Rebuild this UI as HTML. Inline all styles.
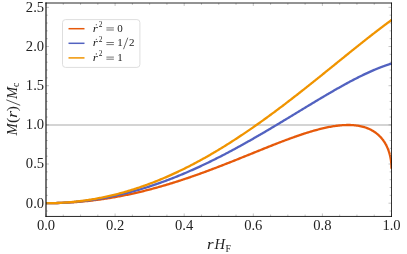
<!DOCTYPE html>
<html><head><meta charset="utf-8"><title>plot</title>
<style>
html,body{margin:0;padding:0;background:#fff;}
svg{display:block;will-change:transform;}
text{font-family:"Liberation Serif",serif;fill:#222;}
</style></head><body>
<svg width="407" height="254" viewBox="0 0 407 254">
<rect width="407" height="254" fill="#fff"/>
<defs><clipPath id="cp"><rect x="46.0" y="3.0" width="345.9" height="213.45"/></clipPath></defs>
<line x1="46.0" y1="125" x2="391.5" y2="125" stroke="#c6c6c6" stroke-width="1.5"/>
<g fill="none" stroke-width="2.3" stroke-linejoin="round" clip-path="url(#cp)">
<path d="M46.00,203.20 L47.10,203.20 L48.20,203.19 L49.29,203.19 L50.39,203.18 L51.49,203.16 L52.59,203.15 L53.68,203.13 L54.78,203.10 L55.88,203.08 L56.98,203.05 L58.08,203.02 L59.17,202.98 L60.27,202.94 L61.37,202.90 L62.47,202.86 L63.56,202.81 L64.66,202.76 L65.76,202.71 L66.86,202.65 L67.95,202.59 L69.05,202.53 L70.15,202.46 L71.25,202.39 L72.35,202.32 L73.44,202.25 L74.54,202.17 L75.64,202.09 L76.74,202.00 L77.83,201.92 L78.93,201.83 L80.03,201.73 L81.13,201.63 L82.23,201.53 L83.32,201.43 L84.42,201.33 L85.52,201.22 L86.62,201.10 L87.71,200.99 L88.81,200.87 L89.91,200.75 L91.01,200.62 L92.11,200.49 L93.20,200.36 L94.30,200.23 L95.40,200.09 L96.50,199.95 L97.59,199.81 L98.69,199.66 L99.79,199.51 L100.89,199.36 L101.98,199.20 L103.08,199.04 L104.18,198.88 L105.28,198.71 L106.38,198.55 L107.47,198.37 L108.57,198.20 L109.67,198.02 L110.77,197.84 L111.86,197.66 L112.96,197.47 L114.06,197.28 L115.16,197.09 L116.26,196.89 L117.35,196.69 L118.45,196.49 L119.55,196.28 L120.65,196.08 L121.74,195.86 L122.84,195.65 L123.94,195.43 L125.04,195.21 L126.14,194.99 L127.23,194.76 L128.33,194.53 L129.43,194.30 L130.53,194.07 L131.62,193.83 L132.72,193.59 L133.82,193.34 L134.92,193.10 L136.01,192.85 L137.11,192.59 L138.21,192.34 L139.31,192.08 L140.41,191.82 L141.50,191.55 L142.60,191.29 L143.70,191.02 L144.80,190.74 L145.89,190.47 L146.99,190.19 L148.09,189.91 L149.19,189.62 L150.29,189.34 L151.38,189.05 L152.48,188.76 L153.58,188.46 L154.68,188.16 L155.77,187.86 L156.87,187.56 L157.97,187.25 L159.07,186.94 L160.17,186.63 L161.26,186.32 L162.36,186.00 L163.46,185.68 L164.56,185.36 L165.65,185.04 L166.75,184.71 L167.85,184.38 L168.95,184.05 L170.04,183.72 L171.14,183.38 L172.24,183.04 L173.34,182.70 L174.44,182.35 L175.53,182.01 L176.63,181.66 L177.73,181.31 L178.83,180.95 L179.92,180.60 L181.02,180.24 L182.12,179.88 L183.22,179.52 L184.32,179.15 L185.41,178.78 L186.51,178.41 L187.61,178.04 L188.71,177.67 L189.80,177.29 L190.90,176.91 L192.00,176.53 L193.10,176.15 L194.20,175.77 L195.29,175.38 L196.39,174.99 L197.49,174.60 L198.59,174.21 L199.68,173.82 L200.78,173.42 L201.88,173.02 L202.98,172.62 L204.07,172.22 L205.17,171.82 L206.27,171.41 L207.37,171.01 L208.47,170.60 L209.56,170.19 L210.66,169.78 L211.76,169.36 L212.86,168.95 L213.95,168.53 L215.05,168.12 L216.15,167.70 L217.25,167.28 L218.35,166.85 L219.44,166.43 L220.54,166.01 L221.64,165.58 L222.74,165.15 L223.83,164.73 L224.93,164.30 L226.03,163.87 L227.13,163.43 L228.23,163.00 L229.32,162.57 L230.42,162.13 L231.52,161.70 L232.62,161.26 L233.71,160.82 L234.81,160.39 L235.91,159.95 L237.01,159.51 L238.10,159.07 L239.20,158.63 L240.30,158.18 L241.40,157.74 L242.50,157.30 L243.59,156.86 L244.69,156.41 L245.79,155.97 L246.89,155.53 L247.98,155.08 L249.08,154.64 L250.18,154.19 L251.28,153.75 L252.38,153.31 L253.47,152.86 L254.57,152.42 L255.67,151.97 L256.77,151.53 L257.86,151.09 L258.96,150.64 L260.06,150.20 L261.16,149.76 L262.26,149.32 L263.35,148.88 L264.45,148.44 L265.55,148.00 L266.65,147.56 L267.74,147.12 L268.84,146.68 L269.94,146.25 L271.04,145.81 L272.13,145.38 L273.23,144.94 L274.33,144.51 L275.43,144.08 L276.53,143.66 L277.62,143.23 L278.72,142.80 L279.82,142.38 L280.92,141.96 L282.01,141.54 L283.11,141.12 L284.21,140.71 L285.31,140.29 L286.41,139.88 L287.50,139.47 L288.60,139.07 L289.70,138.67 L290.80,138.26 L291.89,137.87 L292.99,137.47 L294.09,137.08 L295.19,136.69 L296.29,136.31 L297.38,135.92 L298.48,135.55 L299.58,135.17 L300.68,134.80 L301.77,134.43 L302.87,134.07 L303.97,133.71 L305.07,133.36 L306.16,133.01 L307.26,132.66 L308.36,132.32 L309.46,131.98 L310.56,131.65 L311.65,131.33 L312.75,131.01 L313.85,130.69 L314.95,130.38 L316.04,130.08 L317.14,129.78 L318.24,129.49 L319.34,129.21 L320.44,128.93 L321.53,128.66 L322.63,128.40 L323.73,128.14 L324.83,127.90 L325.92,127.66 L327.02,127.43 L328.12,127.20 L329.22,126.99 L330.32,126.78 L331.41,126.59 L332.51,126.40 L333.61,126.22 L334.71,126.06 L335.80,125.90 L336.90,125.76 L338.00,125.62 L339.10,125.50 L340.19,125.39 L341.29,125.29 L342.39,125.21 L343.49,125.14 L344.59,125.08 L345.68,125.04 L346.78,125.01 L347.88,125.00 L348.98,125.00 L350.07,125.02 L351.17,125.06 L352.27,125.11 L353.37,125.19 L354.47,125.28 L355.56,125.40 L356.66,125.53 L357.76,125.69 L358.86,125.88 L359.95,126.08 L361.05,126.31 L362.15,126.57 L363.25,126.86 L364.35,127.18 L365.44,127.53 L366.54,127.91 L367.64,128.33 L368.74,128.79 L369.83,129.29 L370.93,129.83 L372.03,130.42 L373.13,131.05 L374.22,131.75 L374.22,131.75 L374.40,131.86 L374.57,131.97 L374.74,132.09 L374.91,132.21 L375.08,132.33 L375.25,132.44 L375.42,132.56 L375.59,132.69 L375.75,132.81 L375.92,132.93 L376.08,133.05 L376.25,133.18 L376.41,133.30 L376.57,133.43 L376.73,133.55 L376.89,133.68 L377.05,133.81 L377.21,133.94 L377.37,134.07 L377.52,134.20 L377.68,134.33 L377.83,134.47 L377.99,134.60 L378.14,134.73 L378.29,134.87 L378.44,135.01 L378.59,135.14 L378.74,135.28 L378.89,135.42 L379.04,135.56 L379.19,135.70 L379.33,135.84 L379.48,135.98 L379.62,136.13 L379.77,136.27 L379.91,136.41 L380.05,136.56 L380.19,136.71 L380.33,136.85 L380.47,137.00 L380.61,137.15 L380.75,137.30 L380.88,137.45 L381.02,137.60 L381.15,137.75 L381.29,137.90 L381.42,138.06 L381.55,138.21 L381.68,138.37 L381.82,138.52 L381.94,138.68 L382.07,138.84 L382.20,138.99 L382.33,139.15 L382.45,139.31 L382.58,139.47 L382.70,139.63 L382.83,139.80 L382.95,139.96 L383.07,140.12 L383.19,140.29 L383.31,140.45 L383.43,140.62 L383.55,140.78 L383.67,140.95 L383.78,141.12 L383.90,141.29 L384.01,141.46 L384.13,141.63 L384.24,141.80 L384.35,141.97 L384.46,142.14 L384.57,142.32 L384.68,142.49 L384.79,142.66 L384.90,142.84 L385.01,143.02 L385.11,143.19 L385.22,143.37 L385.32,143.55 L385.43,143.73 L385.53,143.91 L385.63,144.09 L385.73,144.27 L385.83,144.45 L385.93,144.63 L386.03,144.81 L386.13,145.00 L386.22,145.18 L386.32,145.36 L386.41,145.55 L386.51,145.74 L386.60,145.92 L386.69,146.11 L386.78,146.30 L386.87,146.49 L386.96,146.68 L387.05,146.87 L387.14,147.06 L387.22,147.25 L387.31,147.44 L387.40,147.63 L387.48,147.83 L387.56,148.02 L387.65,148.21 L387.73,148.41 L387.81,148.61 L387.89,148.80 L387.97,149.00 L388.04,149.20 L388.12,149.39 L388.20,149.59 L388.27,149.79 L388.35,149.99 L388.42,150.19 L388.49,150.39 L388.57,150.59 L388.64,150.80 L388.71,151.00 L388.78,151.20 L388.85,151.41 L388.91,151.61 L388.98,151.82 L389.05,152.02 L389.11,152.23 L389.18,152.43 L389.24,152.64 L389.30,152.85 L389.36,153.06 L389.42,153.26 L389.48,153.47 L389.54,153.68 L389.60,153.89 L389.66,154.10 L389.71,154.32 L389.77,154.53 L389.82,154.74 L389.88,154.95 L389.93,155.17 L389.98,155.38 L390.03,155.59 L390.08,155.81 L390.13,156.02 L390.18,156.24 L390.23,156.46 L390.27,156.67 L390.32,156.89 L390.37,157.11 L390.41,157.33 L390.45,157.54 L390.49,157.76 L390.54,157.98 L390.58,158.20 L390.62,158.42 L390.66,158.64 L390.69,158.86 L390.73,159.09 L390.77,159.31 L390.80,159.53 L390.84,159.75 L390.87,159.98 L390.90,160.20 L390.93,160.42 L390.97,160.65 L391.00,160.87 L391.02,161.10 L391.05,161.32 L391.08,161.55 L391.11,161.78 L391.13,162.00 L391.16,162.23 L391.18,162.46 L391.21,162.69 L391.23,162.92 L391.25,163.14 L391.27,163.37 L391.29,163.60 L391.31,163.83 L391.33,164.06 L391.34,164.29 L391.36,164.52 L391.37,164.75 L391.39,164.99 L391.40,165.22 L391.41,165.45 L391.43,165.68 L391.44,165.91 L391.45,166.15 L391.46,166.38 L391.46,166.61 L391.47,166.85 L391.48,167.08 L391.48,167.32 L391.49,167.55 L391.49,167.79 L391.50,168.02 L391.50,168.26 L391.50,168.49 L391.50,168.73" stroke="#e6590a"/>
<path d="M46.00,203.20 L47.10,203.20 L48.20,203.19 L49.29,203.18 L50.39,203.17 L51.49,203.15 L52.59,203.13 L53.68,203.11 L54.78,203.08 L55.88,203.05 L56.98,203.02 L58.08,202.98 L59.17,202.93 L60.27,202.89 L61.37,202.84 L62.47,202.78 L63.56,202.73 L64.66,202.66 L65.76,202.60 L66.86,202.53 L67.95,202.46 L69.05,202.38 L70.15,202.30 L71.25,202.22 L72.35,202.13 L73.44,202.04 L74.54,201.94 L75.64,201.84 L76.74,201.74 L77.83,201.63 L78.93,201.52 L80.03,201.41 L81.13,201.29 L82.23,201.17 L83.32,201.04 L84.42,200.91 L85.52,200.78 L86.62,200.64 L87.71,200.50 L88.81,200.35 L89.91,200.20 L91.01,200.05 L92.11,199.89 L93.20,199.73 L94.30,199.57 L95.40,199.40 L96.50,199.23 L97.59,199.05 L98.69,198.88 L99.79,198.69 L100.89,198.50 L101.98,198.31 L103.08,198.12 L104.18,197.92 L105.28,197.72 L106.38,197.51 L107.47,197.30 L108.57,197.09 L109.67,196.87 L110.77,196.65 L111.86,196.42 L112.96,196.19 L114.06,195.96 L115.16,195.73 L116.26,195.48 L117.35,195.24 L118.45,194.99 L119.55,194.74 L120.65,194.49 L121.74,194.23 L122.84,193.96 L123.94,193.70 L125.04,193.43 L126.14,193.15 L127.23,192.87 L128.33,192.59 L129.43,192.30 L130.53,192.02 L131.62,191.72 L132.72,191.43 L133.82,191.12 L134.92,190.82 L136.01,190.51 L137.11,190.20 L138.21,189.88 L139.31,189.57 L140.41,189.24 L141.50,188.92 L142.60,188.59 L143.70,188.25 L144.80,187.91 L145.89,187.57 L146.99,187.23 L148.09,186.88 L149.19,186.53 L150.29,186.17 L151.38,185.81 L152.48,185.45 L153.58,185.08 L154.68,184.71 L155.77,184.34 L156.87,183.96 L157.97,183.58 L159.07,183.20 L160.17,182.81 L161.26,182.42 L162.36,182.02 L163.46,181.63 L164.56,181.22 L165.65,180.82 L166.75,180.41 L167.85,180.00 L168.95,179.58 L170.04,179.16 L171.14,178.74 L172.24,178.31 L173.34,177.88 L174.44,177.45 L175.53,177.02 L176.63,176.58 L177.73,176.13 L178.83,175.69 L179.92,175.24 L181.02,174.78 L182.12,174.33 L183.22,173.87 L184.32,173.41 L185.41,172.94 L186.51,172.47 L187.61,172.00 L188.71,171.52 L189.80,171.04 L190.90,170.56 L192.00,170.08 L193.10,169.59 L194.20,169.10 L195.29,168.60 L196.39,168.11 L197.49,167.61 L198.59,167.10 L199.68,166.59 L200.78,166.09 L201.88,165.57 L202.98,165.06 L204.07,164.54 L205.17,164.02 L206.27,163.49 L207.37,162.96 L208.47,162.43 L209.56,161.90 L210.66,161.37 L211.76,160.83 L212.86,160.29 L213.95,159.74 L215.05,159.19 L216.15,158.64 L217.25,158.09 L218.35,157.54 L219.44,156.98 L220.54,156.42 L221.64,155.86 L222.74,155.29 L223.83,154.72 L224.93,154.15 L226.03,153.58 L227.13,153.00 L228.23,152.42 L229.32,151.84 L230.42,151.26 L231.52,150.67 L232.62,150.09 L233.71,149.50 L234.81,148.90 L235.91,148.31 L237.01,147.71 L238.10,147.11 L239.20,146.51 L240.30,145.91 L241.40,145.30 L242.50,144.69 L243.59,144.08 L244.69,143.47 L245.79,142.86 L246.89,142.24 L247.98,141.62 L249.08,141.00 L250.18,140.38 L251.28,139.76 L252.38,139.13 L253.47,138.50 L254.57,137.87 L255.67,137.24 L256.77,136.61 L257.86,135.98 L258.96,135.34 L260.06,134.70 L261.16,134.06 L262.26,133.42 L263.35,132.78 L264.45,132.14 L265.55,131.49 L266.65,130.85 L267.74,130.20 L268.84,129.55 L269.94,128.90 L271.04,128.25 L272.13,127.60 L273.23,126.94 L274.33,126.29 L275.43,125.63 L276.53,124.98 L277.62,124.32 L278.72,123.66 L279.82,123.00 L280.92,122.34 L282.01,121.68 L283.11,121.02 L284.21,120.36 L285.31,119.69 L286.41,119.03 L287.50,118.37 L288.60,117.70 L289.70,117.04 L290.80,116.37 L291.89,115.71 L292.99,115.04 L294.09,114.37 L295.19,113.71 L296.29,113.04 L297.38,112.37 L298.48,111.71 L299.58,111.04 L300.68,110.37 L301.77,109.71 L302.87,109.04 L303.97,108.38 L305.07,107.71 L306.16,107.05 L307.26,106.38 L308.36,105.72 L309.46,105.05 L310.56,104.39 L311.65,103.73 L312.75,103.07 L313.85,102.41 L314.95,101.75 L316.04,101.09 L317.14,100.43 L318.24,99.78 L319.34,99.12 L320.44,98.47 L321.53,97.82 L322.63,97.17 L323.73,96.52 L324.83,95.87 L325.92,95.22 L327.02,94.58 L328.12,93.94 L329.22,93.30 L330.32,92.66 L331.41,92.02 L332.51,91.39 L333.61,90.75 L334.71,90.12 L335.80,89.50 L336.90,88.87 L338.00,88.25 L339.10,87.63 L340.19,87.01 L341.29,86.40 L342.39,85.79 L343.49,85.18 L344.59,84.58 L345.68,83.98 L346.78,83.38 L347.88,82.79 L348.98,82.20 L350.07,81.61 L351.17,81.03 L352.27,80.45 L353.37,79.87 L354.47,79.30 L355.56,78.74 L356.66,78.18 L357.76,77.62 L358.86,77.07 L359.95,76.52 L361.05,75.98 L362.15,75.44 L363.25,74.91 L364.35,74.38 L365.44,73.86 L366.54,73.35 L367.64,72.84 L368.74,72.34 L369.83,71.84 L370.93,71.35 L372.03,70.87 L373.13,70.39 L374.22,69.92 L374.22,69.92 L374.40,69.85 L374.57,69.77 L374.74,69.70 L374.91,69.63 L375.08,69.56 L375.25,69.49 L375.42,69.42 L375.59,69.35 L375.75,69.28 L375.92,69.21 L376.08,69.14 L376.25,69.07 L376.41,69.01 L376.57,68.94 L376.73,68.87 L376.89,68.81 L377.05,68.74 L377.21,68.68 L377.37,68.61 L377.52,68.55 L377.68,68.49 L377.83,68.43 L377.99,68.36 L378.14,68.30 L378.29,68.24 L378.44,68.18 L378.59,68.12 L378.74,68.06 L378.89,68.00 L379.04,67.94 L379.19,67.89 L379.33,67.83 L379.48,67.77 L379.62,67.71 L379.77,67.66 L379.91,67.60 L380.05,67.55 L380.19,67.49 L380.33,67.44 L380.47,67.39 L380.61,67.33 L380.75,67.28 L380.88,67.23 L381.02,67.18 L381.15,67.12 L381.29,67.07 L381.42,67.02 L381.55,66.97 L381.68,66.92 L381.82,66.87 L381.94,66.83 L382.07,66.78 L382.20,66.73 L382.33,66.68 L382.45,66.64 L382.58,66.59 L382.70,66.54 L382.83,66.50 L382.95,66.45 L383.07,66.41 L383.19,66.36 L383.31,66.32 L383.43,66.28 L383.55,66.23 L383.67,66.19 L383.78,66.15 L383.90,66.11 L384.01,66.07 L384.13,66.02 L384.24,65.98 L384.35,65.94 L384.46,65.90 L384.57,65.86 L384.68,65.83 L384.79,65.79 L384.90,65.75 L385.01,65.71 L385.11,65.67 L385.22,65.64 L385.32,65.60 L385.43,65.56 L385.53,65.53 L385.63,65.49 L385.73,65.46 L385.83,65.42 L385.93,65.39 L386.03,65.36 L386.13,65.32 L386.22,65.29 L386.32,65.26 L386.41,65.22 L386.51,65.19 L386.60,65.16 L386.69,65.13 L386.78,65.10 L386.87,65.07 L386.96,65.04 L387.05,65.01 L387.14,64.98 L387.22,64.95 L387.31,64.92 L387.40,64.89 L387.48,64.86 L387.56,64.84 L387.65,64.81 L387.73,64.78 L387.81,64.75 L387.89,64.73 L387.97,64.70 L388.04,64.68 L388.12,64.65 L388.20,64.63 L388.27,64.60 L388.35,64.58 L388.42,64.55 L388.49,64.53 L388.57,64.51 L388.64,64.48 L388.71,64.46 L388.78,64.44 L388.85,64.42 L388.91,64.39 L388.98,64.37 L389.05,64.35 L389.11,64.33 L389.18,64.31 L389.24,64.29 L389.30,64.27 L389.36,64.25 L389.42,64.23 L389.48,64.21 L389.54,64.19 L389.60,64.18 L389.66,64.16 L389.71,64.14 L389.77,64.12 L389.82,64.11 L389.88,64.09 L389.93,64.07 L389.98,64.06 L390.03,64.04 L390.08,64.02 L390.13,64.01 L390.18,63.99 L390.23,63.98 L390.27,63.96 L390.32,63.95 L390.37,63.94 L390.41,63.92 L390.45,63.91 L390.49,63.90 L390.54,63.88 L390.58,63.87 L390.62,63.86 L390.66,63.85 L390.69,63.84 L390.73,63.82 L390.77,63.81 L390.80,63.80 L390.84,63.79 L390.87,63.78 L390.90,63.77 L390.93,63.76 L390.97,63.75 L391.00,63.74 L391.02,63.73 L391.05,63.73 L391.08,63.72 L391.11,63.71 L391.13,63.70 L391.16,63.69 L391.18,63.69 L391.21,63.68 L391.23,63.67 L391.25,63.67 L391.27,63.66 L391.29,63.65 L391.31,63.65 L391.33,63.64 L391.34,63.64 L391.36,63.63 L391.37,63.63 L391.39,63.62 L391.40,63.62 L391.41,63.62 L391.43,63.61 L391.44,63.61 L391.45,63.61 L391.46,63.60 L391.46,63.60 L391.47,63.60 L391.48,63.60 L391.48,63.60 L391.49,63.59 L391.49,63.59 L391.50,63.59 L391.50,63.59 L391.50,63.59 L391.50,63.59" stroke="#5262c0"/>
<path d="M46.00,203.20 L47.10,203.20 L48.20,203.19 L49.29,203.18 L50.39,203.17 L51.49,203.15 L52.59,203.12 L53.68,203.10 L54.78,203.06 L55.88,203.03 L56.98,202.99 L58.08,202.94 L59.17,202.89 L60.27,202.84 L61.37,202.78 L62.47,202.72 L63.56,202.65 L64.66,202.58 L65.76,202.51 L66.86,202.43 L67.95,202.34 L69.05,202.25 L70.15,202.16 L71.25,202.07 L72.35,201.96 L73.44,201.86 L74.54,201.75 L75.64,201.63 L76.74,201.51 L77.83,201.39 L78.93,201.26 L80.03,201.13 L81.13,201.00 L82.23,200.85 L83.32,200.71 L84.42,200.56 L85.52,200.41 L86.62,200.25 L87.71,200.09 L88.81,199.92 L89.91,199.75 L91.01,199.57 L92.11,199.39 L93.20,199.21 L94.30,199.02 L95.40,198.82 L96.50,198.62 L97.59,198.42 L98.69,198.22 L99.79,198.00 L100.89,197.79 L101.98,197.57 L103.08,197.34 L104.18,197.12 L105.28,196.88 L106.38,196.64 L107.47,196.40 L108.57,196.16 L109.67,195.90 L110.77,195.65 L111.86,195.39 L112.96,195.12 L114.06,194.86 L115.16,194.58 L116.26,194.31 L117.35,194.02 L118.45,193.74 L119.55,193.45 L120.65,193.15 L121.74,192.85 L122.84,192.55 L123.94,192.24 L125.04,191.93 L126.14,191.61 L127.23,191.29 L128.33,190.96 L129.43,190.63 L130.53,190.30 L131.62,189.96 L132.72,189.62 L133.82,189.27 L134.92,188.92 L136.01,188.56 L137.11,188.20 L138.21,187.84 L139.31,187.47 L140.41,187.09 L141.50,186.71 L142.60,186.33 L143.70,185.95 L144.80,185.55 L145.89,185.16 L146.99,184.76 L148.09,184.36 L149.19,183.95 L150.29,183.54 L151.38,183.12 L152.48,182.70 L153.58,182.27 L154.68,181.84 L155.77,181.41 L156.87,180.97 L157.97,180.53 L159.07,180.08 L160.17,179.63 L161.26,179.18 L162.36,178.72 L163.46,178.25 L164.56,177.79 L165.65,177.32 L166.75,176.84 L167.85,176.36 L168.95,175.88 L170.04,175.39 L171.14,174.89 L172.24,174.40 L173.34,173.90 L174.44,173.39 L175.53,172.88 L176.63,172.37 L177.73,171.85 L178.83,171.33 L179.92,170.81 L181.02,170.28 L182.12,169.74 L183.22,169.21 L184.32,168.67 L185.41,168.12 L186.51,167.57 L187.61,167.02 L188.71,166.46 L189.80,165.90 L190.90,165.33 L192.00,164.77 L193.10,164.19 L194.20,163.61 L195.29,163.03 L196.39,162.45 L197.49,161.86 L198.59,161.27 L199.68,160.67 L200.78,160.07 L201.88,159.47 L202.98,158.86 L204.07,158.25 L205.17,157.63 L206.27,157.01 L207.37,156.39 L208.47,155.76 L209.56,155.13 L210.66,154.50 L211.76,153.86 L212.86,153.22 L213.95,152.58 L215.05,151.93 L216.15,151.28 L217.25,150.62 L218.35,149.96 L219.44,149.30 L220.54,148.63 L221.64,147.96 L222.74,147.29 L223.83,146.61 L224.93,145.93 L226.03,145.25 L227.13,144.56 L228.23,143.87 L229.32,143.17 L230.42,142.48 L231.52,141.78 L232.62,141.07 L233.71,140.36 L234.81,139.65 L235.91,138.94 L237.01,138.22 L238.10,137.50 L239.20,136.78 L240.30,136.05 L241.40,135.32 L242.50,134.59 L243.59,133.85 L244.69,133.11 L245.79,132.37 L246.89,131.62 L247.98,130.87 L249.08,130.12 L250.18,129.37 L251.28,128.61 L252.38,127.85 L253.47,127.08 L254.57,126.32 L255.67,125.55 L256.77,124.78 L257.86,124.00 L258.96,123.22 L260.06,122.44 L261.16,121.66 L262.26,120.87 L263.35,120.08 L264.45,119.29 L265.55,118.50 L266.65,117.70 L267.74,116.90 L268.84,116.10 L269.94,115.30 L271.04,114.49 L272.13,113.68 L273.23,112.87 L274.33,112.06 L275.43,111.24 L276.53,110.42 L277.62,109.60 L278.72,108.78 L279.82,107.95 L280.92,107.12 L282.01,106.29 L283.11,105.46 L284.21,104.63 L285.31,103.79 L286.41,102.95 L287.50,102.11 L288.60,101.27 L289.70,100.43 L290.80,99.58 L291.89,98.73 L292.99,97.88 L294.09,97.03 L295.19,96.18 L296.29,95.32 L297.38,94.47 L298.48,93.61 L299.58,92.75 L300.68,91.89 L301.77,91.02 L302.87,90.16 L303.97,89.29 L305.07,88.43 L306.16,87.56 L307.26,86.69 L308.36,85.82 L309.46,84.94 L310.56,84.07 L311.65,83.19 L312.75,82.32 L313.85,81.44 L314.95,80.56 L316.04,79.68 L317.14,78.80 L318.24,77.92 L319.34,77.04 L320.44,76.16 L321.53,75.27 L322.63,74.39 L323.73,73.50 L324.83,72.62 L325.92,71.73 L327.02,70.85 L328.12,69.96 L329.22,69.07 L330.32,68.18 L331.41,67.30 L332.51,66.41 L333.61,65.52 L334.71,64.63 L335.80,63.74 L336.90,62.85 L338.00,61.97 L339.10,61.08 L340.19,60.19 L341.29,59.30 L342.39,58.41 L343.49,57.52 L344.59,56.64 L345.68,55.75 L346.78,54.86 L347.88,53.98 L348.98,53.09 L350.07,52.21 L351.17,51.32 L352.27,50.44 L353.37,49.56 L354.47,48.68 L355.56,47.80 L356.66,46.92 L357.76,46.04 L358.86,45.17 L359.95,44.29 L361.05,43.42 L362.15,42.54 L363.25,41.67 L364.35,40.80 L365.44,39.94 L366.54,39.07 L367.64,38.21 L368.74,37.34 L369.83,36.48 L370.93,35.63 L372.03,34.77 L373.13,33.92 L374.22,33.06 L374.22,33.06 L374.40,32.93 L374.57,32.80 L374.74,32.66 L374.91,32.53 L375.08,32.40 L375.25,32.27 L375.42,32.14 L375.59,32.01 L375.75,31.88 L375.92,31.76 L376.08,31.63 L376.25,31.50 L376.41,31.38 L376.57,31.25 L376.73,31.13 L376.89,31.01 L377.05,30.88 L377.21,30.76 L377.37,30.64 L377.52,30.52 L377.68,30.40 L377.83,30.28 L377.99,30.17 L378.14,30.05 L378.29,29.93 L378.44,29.82 L378.59,29.70 L378.74,29.59 L378.89,29.47 L379.04,29.36 L379.19,29.25 L379.33,29.14 L379.48,29.02 L379.62,28.91 L379.77,28.80 L379.91,28.70 L380.05,28.59 L380.19,28.48 L380.33,28.37 L380.47,28.27 L380.61,28.16 L380.75,28.06 L380.88,27.95 L381.02,27.85 L381.15,27.75 L381.29,27.65 L381.42,27.55 L381.55,27.45 L381.68,27.35 L381.82,27.25 L381.94,27.15 L382.07,27.05 L382.20,26.96 L382.33,26.86 L382.45,26.76 L382.58,26.67 L382.70,26.58 L382.83,26.48 L382.95,26.39 L383.07,26.30 L383.19,26.21 L383.31,26.12 L383.43,26.03 L383.55,25.94 L383.67,25.85 L383.78,25.76 L383.90,25.68 L384.01,25.59 L384.13,25.50 L384.24,25.42 L384.35,25.33 L384.46,25.25 L384.57,25.17 L384.68,25.09 L384.79,25.00 L384.90,24.92 L385.01,24.84 L385.11,24.76 L385.22,24.69 L385.32,24.61 L385.43,24.53 L385.53,24.45 L385.63,24.38 L385.73,24.30 L385.83,24.23 L385.93,24.15 L386.03,24.08 L386.13,24.01 L386.22,23.94 L386.32,23.86 L386.41,23.79 L386.51,23.72 L386.60,23.65 L386.69,23.59 L386.78,23.52 L386.87,23.45 L386.96,23.38 L387.05,23.32 L387.14,23.25 L387.22,23.19 L387.31,23.13 L387.40,23.06 L387.48,23.00 L387.56,22.94 L387.65,22.88 L387.73,22.82 L387.81,22.76 L387.89,22.70 L387.97,22.64 L388.04,22.58 L388.12,22.52 L388.20,22.47 L388.27,22.41 L388.35,22.36 L388.42,22.30 L388.49,22.25 L388.57,22.19 L388.64,22.14 L388.71,22.09 L388.78,22.04 L388.85,21.99 L388.91,21.94 L388.98,21.89 L389.05,21.84 L389.11,21.79 L389.18,21.75 L389.24,21.70 L389.30,21.65 L389.36,21.61 L389.42,21.56 L389.48,21.52 L389.54,21.48 L389.60,21.43 L389.66,21.39 L389.71,21.35 L389.77,21.31 L389.82,21.27 L389.88,21.23 L389.93,21.19 L389.98,21.15 L390.03,21.12 L390.08,21.08 L390.13,21.04 L390.18,21.01 L390.23,20.97 L390.27,20.94 L390.32,20.90 L390.37,20.87 L390.41,20.84 L390.45,20.81 L390.49,20.78 L390.54,20.75 L390.58,20.72 L390.62,20.69 L390.66,20.66 L390.69,20.63 L390.73,20.60 L390.77,20.58 L390.80,20.55 L390.84,20.53 L390.87,20.50 L390.90,20.48 L390.93,20.45 L390.97,20.43 L391.00,20.41 L391.02,20.39 L391.05,20.37 L391.08,20.35 L391.11,20.33 L391.13,20.31 L391.16,20.29 L391.18,20.27 L391.21,20.26 L391.23,20.24 L391.25,20.22 L391.27,20.21 L391.29,20.20 L391.31,20.18 L391.33,20.17 L391.34,20.16 L391.36,20.14 L391.37,20.13 L391.39,20.12 L391.40,20.11 L391.41,20.10 L391.43,20.09 L391.44,20.09 L391.45,20.08 L391.46,20.07 L391.46,20.07 L391.47,20.06 L391.48,20.06 L391.48,20.05 L391.49,20.05 L391.49,20.05 L391.50,20.04 L391.50,20.04 L391.50,20.04 L391.50,20.04" stroke="#f09400"/>
</g>
<g stroke="#808080" stroke-width="0.45">
<line x1="46.00" y1="216.45" x2="46.00" y2="213.45"/>
<line x1="46.00" y1="3.0" x2="46.00" y2="6.00"/>
<line x1="63.28" y1="216.45" x2="63.28" y2="214.55"/>
<line x1="63.28" y1="3.0" x2="63.28" y2="4.90"/>
<line x1="80.55" y1="216.45" x2="80.55" y2="214.55"/>
<line x1="80.55" y1="3.0" x2="80.55" y2="4.90"/>
<line x1="97.83" y1="216.45" x2="97.83" y2="214.55"/>
<line x1="97.83" y1="3.0" x2="97.83" y2="4.90"/>
<line x1="115.10" y1="216.45" x2="115.10" y2="213.45"/>
<line x1="115.10" y1="3.0" x2="115.10" y2="6.00"/>
<line x1="132.38" y1="216.45" x2="132.38" y2="214.55"/>
<line x1="132.38" y1="3.0" x2="132.38" y2="4.90"/>
<line x1="149.65" y1="216.45" x2="149.65" y2="214.55"/>
<line x1="149.65" y1="3.0" x2="149.65" y2="4.90"/>
<line x1="166.93" y1="216.45" x2="166.93" y2="214.55"/>
<line x1="166.93" y1="3.0" x2="166.93" y2="4.90"/>
<line x1="184.20" y1="216.45" x2="184.20" y2="213.45"/>
<line x1="184.20" y1="3.0" x2="184.20" y2="6.00"/>
<line x1="201.47" y1="216.45" x2="201.47" y2="214.55"/>
<line x1="201.47" y1="3.0" x2="201.47" y2="4.90"/>
<line x1="218.75" y1="216.45" x2="218.75" y2="214.55"/>
<line x1="218.75" y1="3.0" x2="218.75" y2="4.90"/>
<line x1="236.03" y1="216.45" x2="236.03" y2="214.55"/>
<line x1="236.03" y1="3.0" x2="236.03" y2="4.90"/>
<line x1="253.30" y1="216.45" x2="253.30" y2="213.45"/>
<line x1="253.30" y1="3.0" x2="253.30" y2="6.00"/>
<line x1="270.58" y1="216.45" x2="270.58" y2="214.55"/>
<line x1="270.58" y1="3.0" x2="270.58" y2="4.90"/>
<line x1="287.85" y1="216.45" x2="287.85" y2="214.55"/>
<line x1="287.85" y1="3.0" x2="287.85" y2="4.90"/>
<line x1="305.12" y1="216.45" x2="305.12" y2="214.55"/>
<line x1="305.12" y1="3.0" x2="305.12" y2="4.90"/>
<line x1="322.40" y1="216.45" x2="322.40" y2="213.45"/>
<line x1="322.40" y1="3.0" x2="322.40" y2="6.00"/>
<line x1="339.68" y1="216.45" x2="339.68" y2="214.55"/>
<line x1="339.68" y1="3.0" x2="339.68" y2="4.90"/>
<line x1="356.95" y1="216.45" x2="356.95" y2="214.55"/>
<line x1="356.95" y1="3.0" x2="356.95" y2="4.90"/>
<line x1="374.23" y1="216.45" x2="374.23" y2="214.55"/>
<line x1="374.23" y1="3.0" x2="374.23" y2="4.90"/>
<line x1="391.50" y1="216.45" x2="391.50" y2="213.45"/>
<line x1="391.50" y1="3.0" x2="391.50" y2="6.00"/>
<line x1="46.0" y1="211.03" x2="47.90" y2="211.03"/>
<line x1="391.5" y1="211.03" x2="389.60" y2="211.03"/>
<line x1="46.0" y1="203.20" x2="49.00" y2="203.20"/>
<line x1="391.5" y1="203.20" x2="388.50" y2="203.20"/>
<line x1="46.0" y1="195.37" x2="47.90" y2="195.37"/>
<line x1="391.5" y1="195.37" x2="389.60" y2="195.37"/>
<line x1="46.0" y1="187.53" x2="47.90" y2="187.53"/>
<line x1="391.5" y1="187.53" x2="389.60" y2="187.53"/>
<line x1="46.0" y1="179.70" x2="47.90" y2="179.70"/>
<line x1="391.5" y1="179.70" x2="389.60" y2="179.70"/>
<line x1="46.0" y1="171.86" x2="47.90" y2="171.86"/>
<line x1="391.5" y1="171.86" x2="389.60" y2="171.86"/>
<line x1="46.0" y1="164.03" x2="49.00" y2="164.03"/>
<line x1="391.5" y1="164.03" x2="388.50" y2="164.03"/>
<line x1="46.0" y1="156.20" x2="47.90" y2="156.20"/>
<line x1="391.5" y1="156.20" x2="389.60" y2="156.20"/>
<line x1="46.0" y1="148.36" x2="47.90" y2="148.36"/>
<line x1="391.5" y1="148.36" x2="389.60" y2="148.36"/>
<line x1="46.0" y1="140.53" x2="47.90" y2="140.53"/>
<line x1="391.5" y1="140.53" x2="389.60" y2="140.53"/>
<line x1="46.0" y1="132.69" x2="47.90" y2="132.69"/>
<line x1="391.5" y1="132.69" x2="389.60" y2="132.69"/>
<line x1="46.0" y1="124.86" x2="49.00" y2="124.86"/>
<line x1="391.5" y1="124.86" x2="388.50" y2="124.86"/>
<line x1="46.0" y1="117.03" x2="47.90" y2="117.03"/>
<line x1="391.5" y1="117.03" x2="389.60" y2="117.03"/>
<line x1="46.0" y1="109.19" x2="47.90" y2="109.19"/>
<line x1="391.5" y1="109.19" x2="389.60" y2="109.19"/>
<line x1="46.0" y1="101.36" x2="47.90" y2="101.36"/>
<line x1="391.5" y1="101.36" x2="389.60" y2="101.36"/>
<line x1="46.0" y1="93.52" x2="47.90" y2="93.52"/>
<line x1="391.5" y1="93.52" x2="389.60" y2="93.52"/>
<line x1="46.0" y1="85.69" x2="49.00" y2="85.69"/>
<line x1="391.5" y1="85.69" x2="388.50" y2="85.69"/>
<line x1="46.0" y1="77.86" x2="47.90" y2="77.86"/>
<line x1="391.5" y1="77.86" x2="389.60" y2="77.86"/>
<line x1="46.0" y1="70.02" x2="47.90" y2="70.02"/>
<line x1="391.5" y1="70.02" x2="389.60" y2="70.02"/>
<line x1="46.0" y1="62.19" x2="47.90" y2="62.19"/>
<line x1="391.5" y1="62.19" x2="389.60" y2="62.19"/>
<line x1="46.0" y1="54.35" x2="47.90" y2="54.35"/>
<line x1="391.5" y1="54.35" x2="389.60" y2="54.35"/>
<line x1="46.0" y1="46.52" x2="49.00" y2="46.52"/>
<line x1="391.5" y1="46.52" x2="388.50" y2="46.52"/>
<line x1="46.0" y1="38.69" x2="47.90" y2="38.69"/>
<line x1="391.5" y1="38.69" x2="389.60" y2="38.69"/>
<line x1="46.0" y1="30.85" x2="47.90" y2="30.85"/>
<line x1="391.5" y1="30.85" x2="389.60" y2="30.85"/>
<line x1="46.0" y1="23.02" x2="47.90" y2="23.02"/>
<line x1="391.5" y1="23.02" x2="389.60" y2="23.02"/>
<line x1="46.0" y1="15.18" x2="47.90" y2="15.18"/>
<line x1="391.5" y1="15.18" x2="389.60" y2="15.18"/>
<line x1="46.0" y1="7.35" x2="49.00" y2="7.35"/>
<line x1="391.5" y1="7.35" x2="388.50" y2="7.35"/>
</g>
<g stroke="#000" fill="none">
<line x1="46.0" y1="2.6" x2="46.0" y2="216.85" stroke-width="1.1"/>
<line x1="391.5" y1="2.6" x2="391.5" y2="216.85" stroke-width="0.8"/>
<line x1="45.45" y1="3.0" x2="391.9" y2="3.0" stroke-width="0.85"/>
<line x1="45.45" y1="216.45" x2="391.9" y2="216.45" stroke-width="0.85"/>
</g>
<g font-size="14.6">
<text x="46.00" y="230.1" text-anchor="middle">0.0</text>
<text x="115.10" y="230.1" text-anchor="middle">0.2</text>
<text x="184.20" y="230.1" text-anchor="middle">0.4</text>
<text x="253.30" y="230.1" text-anchor="middle">0.6</text>
<text x="322.40" y="230.1" text-anchor="middle">0.8</text>
<text x="391.50" y="230.1" text-anchor="middle">1.0</text>
<text x="44.1" y="207.60" text-anchor="end">0.0</text>
<text x="44.1" y="168.43" text-anchor="end">0.5</text>
<text x="44.1" y="129.26" text-anchor="end">1.0</text>
<text x="44.1" y="90.09" text-anchor="end">1.5</text>
<text x="44.1" y="50.92" text-anchor="end">2.0</text>
<text x="44.1" y="11.75" text-anchor="end">2.5</text>
</g>
<!-- x label -->
<g font-size="14.6">
<text x="206.9" y="249.0" font-style="italic" textLength="6.6" lengthAdjust="spacingAndGlyphs">r</text>
<text x="214.6" y="249.0" font-style="italic">H</text>
<text x="225.5" y="251.7" font-size="9.8">F</text>
</g>
<!-- y label -->
<g font-size="14.6" transform="translate(16.8,136) rotate(-90)">
<text x="0.4" y="0" font-style="italic">M</text>
<text x="13.1" y="0.65" font-size="15.6">(</text>
<text x="17.9" y="0" font-style="italic" textLength="7.2" lengthAdjust="spacingAndGlyphs">r</text>
<text x="24.8" y="0.65" font-size="15.6">)</text>
<line x1="30.7" y1="3.4" x2="36.2" y2="-10.5" stroke="#1a1a1a" stroke-width="0.75"/>
<text x="37.1" y="0" font-style="italic">M</text>
<text x="49.0" y="2.5" font-size="9.8">c</text>
</g>
<!-- legend -->
<rect x="62.5" y="19.6" width="77.4" height="47.8" rx="3" ry="3" fill="#fff" stroke="#dedede" stroke-width="1"/>
<g stroke-width="1.5">
<line x1="68.5" y1="28.7" x2="84.5" y2="28.7" stroke="#e6590a"/>
<line x1="68.5" y1="43.3" x2="84.5" y2="43.3" stroke="#5262c0"/>
<line x1="68.5" y1="57.9" x2="84.5" y2="57.9" stroke="#f09400"/>
</g>
<g font-size="11">
<text x="92.8" y="31.6" font-style="italic" textLength="5.1" lengthAdjust="spacingAndGlyphs">r</text><circle cx="96.3" cy="24.70" r="0.55" fill="#1a1a1a"/><text x="98.7" y="27.00" font-size="7.4">2</text><path d="M106.4,27.90h7.5M106.4,30.00h7.5" stroke="#1a1a1a" stroke-width="0.6" fill="none"/><text x="117.3" y="31.6">0</text>
<text x="92.8" y="46.2" font-style="italic" textLength="5.1" lengthAdjust="spacingAndGlyphs">r</text><circle cx="96.3" cy="39.30" r="0.55" fill="#1a1a1a"/><text x="98.7" y="41.60" font-size="7.4">2</text><path d="M106.4,42.50h7.5M106.4,44.60h7.5" stroke="#1a1a1a" stroke-width="0.6" fill="none"/><text x="117.3" y="46.2">1</text><path d="M123.5,49.20L127.8,37.70" stroke="#1a1a1a" stroke-width="0.65" fill="none"/><text x="129.0" y="46.2">2</text>
<text x="92.8" y="60.8" font-style="italic" textLength="5.1" lengthAdjust="spacingAndGlyphs">r</text><circle cx="96.3" cy="53.90" r="0.55" fill="#1a1a1a"/><text x="98.7" y="56.20" font-size="7.4">2</text><path d="M106.4,57.10h7.5M106.4,59.20h7.5" stroke="#1a1a1a" stroke-width="0.6" fill="none"/><text x="117.3" y="60.8">1</text>
</g>
</svg>
</body></html>
